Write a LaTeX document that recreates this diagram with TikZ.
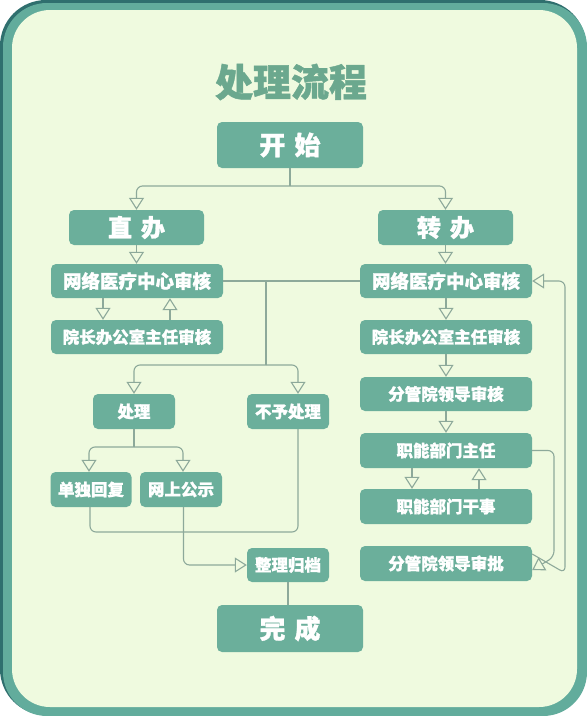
\documentclass[tikz,border=0pt]{standalone}
\usepackage{fontspec}
\setmainfont{Noto Sans CJK SC}[BoldFeatures={FakeBold=1.2}]
\usetikzlibrary{arrows.meta}
\definecolor{framedark}{HTML}{2F6F6E}
\definecolor{framelight}{HTML}{62AC9C}
\definecolor{bgc}{HTML}{EFFADF}
\definecolor{boxc}{HTML}{6BAF9B}
\definecolor{linec}{HTML}{8DA99A}
\definecolor{titlec}{HTML}{6BA88E}
\begin{document}
\begin{tikzpicture}[x=1pt,y=-1pt,
  box/.style={fill=boxc, rounded corners=5pt, text=white, inner sep=0pt,
    font=\bfseries\fontsize{16.5}{18}\selectfont, minimum width=172pt, minimum height=34pt},
  small/.style={box, minimum width=82pt, minimum height=35pt},
  big/.style={box, minimum width=146pt, minimum height=46pt, font=\bfseries\fontsize{26}{28}\selectfont},
  mid/.style={box, minimum width=135pt, minimum height=35pt, font=\bfseries\fontsize{24}{26}\selectfont},
  con/.style={draw=linec, line width=1.1pt, rounded corners=6pt},
  arr/.style={con, -{Triangle[length=12pt,width=15pt,fill=bgc]}}]
\useasboundingbox (0,0) rectangle (587,716);
\fill[white] (0,0) rectangle (587,716);
\fill[framedark, rounded corners=46pt] (0,0) rectangle (586,715);
\fill[framelight, rounded corners=44pt] (3,3) rectangle (587,716);
\fill[bgc, rounded corners=38pt] (12,10) rectangle (577,707);

\node[text=titlec, font=\bfseries\fontsize{38}{40}\selectfont] (title) at (291,82) {处理流程};

\node[big] (start) at (290,145) {开\hspace{9pt}始};
\node[mid] (zhi) at (136.5,227.5) {直\hspace{9pt}办};
\node[mid] (zhuan) at (445.5,227.5) {转\hspace{9pt}办};
\node[box, font=\bfseries\fontsize{18.5}{20}\selectfont] (wlL) at (137,281) {网络医疗中心审核};
\node[box] (yzL) at (137,337) {院长办公室主任审核};
\node[small] (cl) at (134,411.5) {处理};
\node[small] (byl) at (288,411.5) {不予处理};
\node[small, minimum width=81pt] (ddhf) at (91,489.5) {单独回复};
\node[small] (wsgs) at (181,489.5) {网上公示};
\node[small, minimum height=34pt] (zlgd) at (288,565) {整理归档};
\node[big, minimum height=47pt] (wc) at (290,628.5) {完\hspace{9pt}成};

\node[box, font=\bfseries\fontsize{18.5}{20}\selectfont] (wlR) at (446,281) {网络医疗中心审核};
\node[box] (yzR) at (446,337) {院长办公室主任审核};
\node[box] (fgsh) at (446,394) {分管院领导审核};
\node[box, minimum height=35pt] (znzr) at (446,450.5) {职能部门主任};
\node[box, minimum height=35pt] (znzs) at (446,506.5) {职能部门干事};
\node[box, minimum height=35pt] (fgsp) at (446,563.5) {分管院领导审批};

% start split
\coordinate (j1) at (290,186);
\draw[con] (start.south) -- (j1);
\draw[arr] (j1) -| (zhi.north);
\draw[arr] (j1) -| (zhuan.north);
\draw[arr] (zhi.south) -- (zhi.south |- wlL.north);
\draw[arr] (zhuan.south) -- (zhuan.south |- wlR.north);

% left column
\draw[arr] ([xshift=-34pt]wlL.south) -- ([xshift=-34pt]yzL.north);
\draw[arr] ([xshift=33pt]yzL.north) -- ([xshift=33pt]wlL.south);
\draw[con] (wlL.east) -- (wlR.west);
\coordinate (j2) at (266,281);
\coordinate (j3) at (266,365);
\draw[con] (j2) -- (j3);
\draw[arr] (j3) -| (cl.north);
\draw[arr] (j3) -| ([xshift=10pt]byl.north);
\coordinate (j4) at (134,447);
\draw[con] (cl.south) -- (j4);
\draw[arr] (j4) -| ([xshift=-2pt]ddhf.north);
\draw[arr] (j4) -| ([xshift=2pt]wsgs.north);
\coordinate (b1) at (90,532);
\draw[con] ([xshift=10pt]byl.south) |- (b1) -- ([xshift=-1pt]ddhf.south);
\draw[arr] ([xshift=2.5pt]wsgs.south) |- (zlgd.west);
\draw[con] (zlgd.south) -- (zlgd.south |- wc.north);

% right column
\draw[arr] (wlR.south) -- (yzR.north);
\draw[arr] (yzR.south) -- (fgsh.north);
\draw[arr] (fgsh.south) -- (znzr.north);
\draw[arr] ([xshift=-34pt]znzr.south) -- ([xshift=-34pt]znzs.north);
\draw[arr] ([xshift=33pt]znzs.north) -- ([xshift=33pt]znzr.south);
\coordinate (r1) at (554,450.5);
\coordinate (r2) at (554,557);
\draw[arr] (znzr.east) -- (r1) -- (r2) -- ([yshift=-6.5pt]fgsp.east);
\coordinate (r3) at (565,573);
\coordinate (r4) at (565,281);
\draw[arr] ([yshift=9.5pt]fgsp.east) -- (r3) -- (r4) -- (wlR.east);
\end{tikzpicture}
\end{document}
